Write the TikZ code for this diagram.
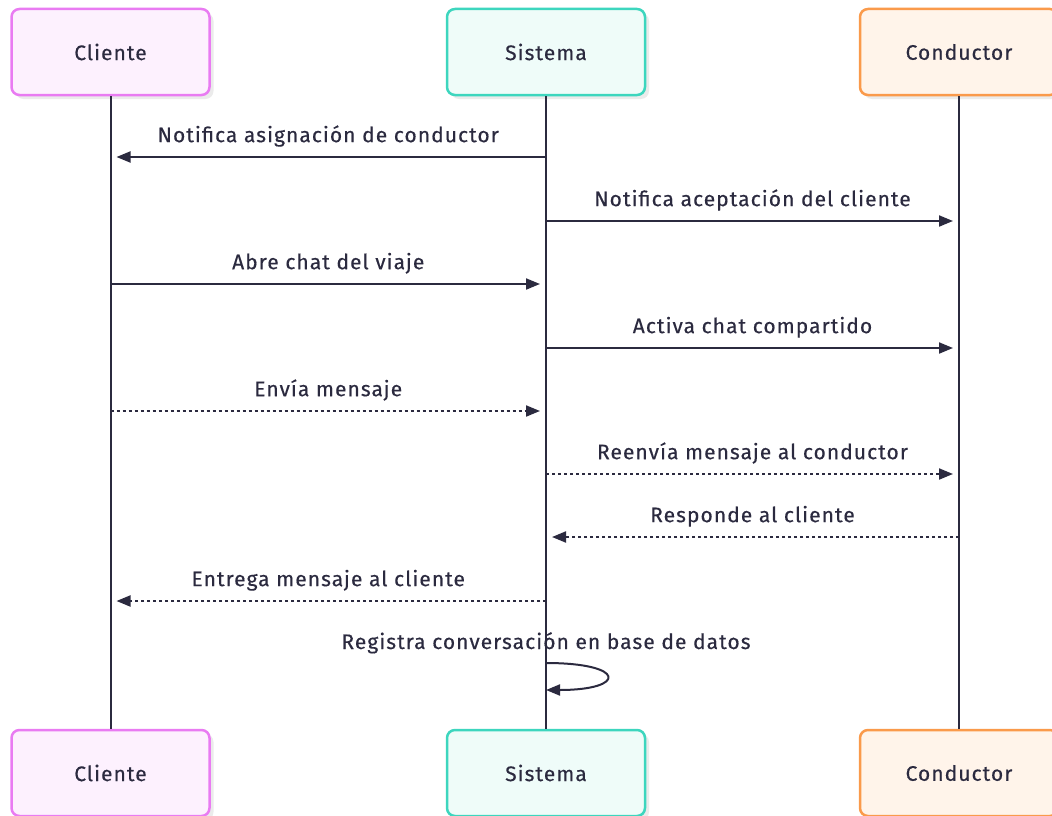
\documentclass[tikz,border=0pt]{standalone}
\usepackage{fontspec}
\setmainfont{Fira Sans}[LetterSpace=5, FakeBold=0.4]
\usetikzlibrary{positioning, arrows.meta, calc, shadows}
\definecolor{inkColor}{HTML}{2B2A3F}
\definecolor{clienteLine}{HTML}{E97BF2}
\definecolor{clienteFill}{HTML}{FDF1FE}
\definecolor{sistemaLine}{HTML}{3DD6BE}
\definecolor{sistemaFill}{HTML}{EFFCF9}
\definecolor{conductorLine}{HTML}{FA9A4B}
\definecolor{conductorFill}{HTML}{FFF4EA}
\tikzstyle{actor} =[draw, rounded corners=8pt, line width=2.5pt, minimum width=198pt, minimum height=86pt, text=inkColor, font=\fontsize{21}{24}\selectfont, drop shadow={shadow xshift=4pt, shadow yshift=-4pt, fill=black!8, opacity=1}]
\tikzstyle{msg} =[-{Triangle[length=14pt, width=11pt]}, line width=2pt, draw=inkColor, shorten >=6pt]
\tikzstyle{reply} =[msg, dash pattern=on 3pt off 3pt]
\tikzstyle{msglabel} =[text=inkColor, font=\fontsize{21}{24}\selectfont, above=6pt, midway]

\begin{document}
\begin{tikzpicture}[x=1pt, y=-1pt]
\useasboundingbox (0,0) rectangle (1052,816);

\node (cli) [actor, draw=clienteLine, fill=clienteFill] at (110.5,52) {Cliente};
\node (sis) [actor, draw=sistemaLine, fill=sistemaFill] at (546,52) {Sistema};
\node (con) [actor, draw=conductorLine, fill=conductorFill] at (959,52) {Conductor};

\node (cliBot) [actor, draw=clienteLine, fill=clienteFill] at (110.5,773) {Cliente};
\node (sisBot) [actor, draw=sistemaLine, fill=sistemaFill] at (546,773) {Sistema};
\node (conBot) [actor, draw=conductorLine, fill=conductorFill] at (959,773) {Conductor};

% lifelines
\draw[line width=2pt, inkColor] (cli) -- (cliBot);
\draw[line width=2pt, inkColor] (sis) -- (sisBot);
\draw[line width=2pt, inkColor] (con) -- (conBot);

\coordinate (r1) at (0,157);
\coordinate (r2) at (0,221);
\coordinate (r3) at (0,284);
\coordinate (r4) at (0,348);
\coordinate (r5) at (0,411);
\coordinate (r6) at (0,474);
\coordinate (r7) at (0,537);
\coordinate (r8) at (0,601);
\coordinate (r9) at (0,663);
\coordinate (r10) at (0,690);

\draw[msg] (sis |- r1) -- node[msglabel] {Notifica asignación de conductor} (cli |- r1);
\draw[msg] (sis |- r2) -- node[msglabel] {Notifica aceptación del cliente} (con |- r2);
\draw[msg] (cli |- r3) -- node[msglabel] {Abre chat del viaje} (sis |- r3);
\draw[msg] (sis |- r4) -- node[msglabel] {Activa chat compartido} (con |- r4);
\draw[reply] (cli |- r5) -- node[msglabel] {Envía mensaje} (sis |- r5);
\draw[reply] (sis |- r6) -- node[msglabel] {Reenvía mensaje al conductor} (con |- r6);
\draw[reply] (con |- r7) -- node[msglabel] {Responde al cliente} (sis |- r7);
\draw[reply] (sis |- r8) -- node[msglabel] {Entrega mensaje al cliente} (cli |- r8);

% self call
\node (selfLabel) [text=inkColor, font=\fontsize{21}{24}\selectfont, above=6pt] at (sis |- r9) {Registra conversación en base de datos};
\draw[msg, shorten >=0pt] (sis |- r9) .. controls ($(sis |- r9)+(81,0)$) and ($(sis |- r10)+(81,0)$) .. (sis |- r10);

\end{tikzpicture}
\end{document}
